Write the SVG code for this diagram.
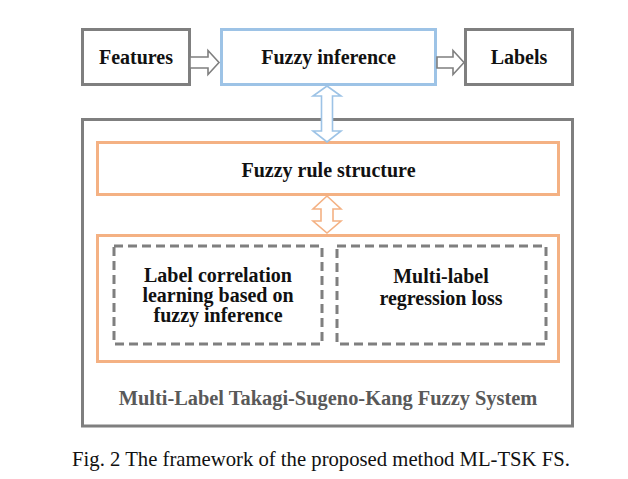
<svg xmlns="http://www.w3.org/2000/svg" width="628" height="479" viewBox="0 0 628 479">
<style>
.g{fill:#fff;stroke:#7f7f7f;stroke-width:3}
.b{fill:#fff;stroke:#9dc3e6;stroke-width:3}
.o{fill:#fff;stroke:#f4b183;stroke-width:3}
.d{fill:none;stroke:#7f7f7f;stroke-width:3;stroke-dasharray:9 5}
.t{font-family:"Liberation Serif","Times New Roman",serif;font-weight:bold;font-size:20px;fill:#111;text-anchor:middle}
.ar{stroke-width:1.6;stroke-linejoin:miter}
</style>
<rect width="628" height="479" fill="#fff"/>
<g id="outer"><rect class="g" x="82.5" y="119.5" width="490" height="306.5"/>
<text class="t" x="328" y="405" style="fill:#595959;font-size:20.4px">Multi-Label Takagi-Sugeno-Kang Fuzzy System</text></g>
<g id="features"><rect class="g" x="82.5" y="29.5" width="107" height="55"/><text class="t" x="136" y="64">Features</text></g>
<g id="fuzzy-inference"><rect class="b" x="221.5" y="29.5" width="214" height="55"/><text class="t" x="328.5" y="64">Fuzzy inference</text></g>
<g id="labels"><rect class="g" x="465.5" y="29.5" width="107" height="55"/><text class="t" x="519" y="64">Labels</text></g>
<g id="rule-structure"><rect class="o" x="97.5" y="142.5" width="461" height="52"/><text class="t" x="328.5" y="177">Fuzzy rule structure</text></g>
<g id="learning"><rect class="o" x="97.5" y="235.5" width="461" height="126"/></g>
<g id="label-correlation"><rect class="d" x="114" y="246" width="208" height="98"/>
<text class="t" x="218" y="282">Label correlation</text><text class="t" x="218" y="302">learning based on</text><text class="t" x="218" y="322">fuzzy inference</text></g>
<g id="regression-loss"><rect class="d" x="337" y="246" width="209" height="98"/>
<text class="t" x="441" y="283">Multi-label</text><text class="t" x="441" y="305">regression loss</text></g>
<g id="connectors">
<path class="g ar" d="M190,57 H208 V50.5 L219,62.5 L208,74.5 V68 H190 Z"/>
<path class="g ar" d="M437,57 H453 V50.5 L464,62.5 L453,74.5 V68 H437 Z"/>
<path class="b ar" d="M327,86 L341,96 H332.5 V131 H341 L327,142 L313,131 H321.5 V96 H313 Z"/>
<path class="o ar" d="M327,196 L341,209 H333 V221 H341 L327,233 L313,221 H321 V209 H313 Z"/>
</g>
<text x="321" y="466" style="font-family:'Liberation Serif','Times New Roman',serif;font-size:20.7px;fill:#111;text-anchor:middle">Fig. 2 The framework of the proposed method ML-TSK FS.</text>
</svg>
